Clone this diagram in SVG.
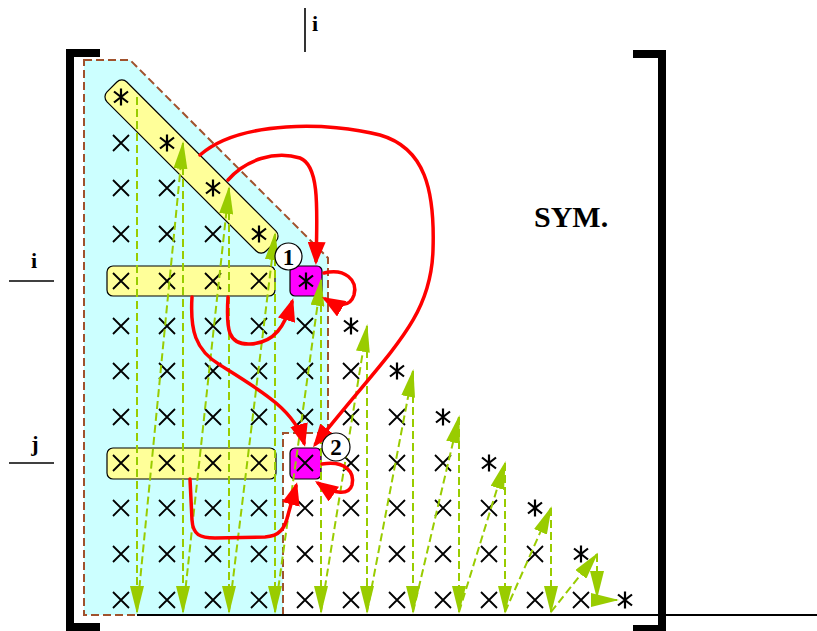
<svg xmlns="http://www.w3.org/2000/svg" xmlns:xlink="http://www.w3.org/1999/xlink" width="817" height="631" viewBox="0 0 817 631">
  <style>
    .bracket { fill: none; stroke: #000; stroke-width: 8; stroke-linejoin: miter; }
    .thin { fill: none; stroke: #000; stroke-width: 1.6; }
    .lbl { font-family: "Liberation Serif", "Times New Roman", serif; font-weight: bold; fill: #000; }
    .region { fill: #ccffff; stroke: #a0522d; stroke-width: 2; stroke-dasharray: 8 4; }
    .hl { fill: #ffff99; stroke: #000; stroke-width: 1.2; }
    .cur { fill: #ff00ff; stroke: #000; stroke-width: 1.2; }
    .mk { fill: none; stroke: #000; stroke-width: 1.8; }
    .st { fill: none; stroke: #000; stroke-width: 2.2; }
    .flow { fill: none; stroke: #99cc00; stroke-width: 2; stroke-dasharray: 8 4; marker-end: url(#gHead); }
    .dep { fill: none; stroke: #ff0000; stroke-width: 3.5; stroke-linecap: round; marker-end: url(#rHead); }
    .tag { fill: #fff; stroke: #000; stroke-width: 1.2; }
  </style>
  <defs>
    <marker id="gHead" markerUnits="userSpaceOnUse" markerWidth="28" markerHeight="14" viewBox="0 0 28 14" refX="26" refY="7" orient="auto">
      <path d="M0,0 L28,7 L0,14 Z" fill="#99cc00"/>
    </marker>
    <marker id="rHead" markerUnits="userSpaceOnUse" markerWidth="23" markerHeight="18" viewBox="0 0 23 18" refX="19" refY="9" orient="auto">
      <path d="M0,0 L23,9 L0,18 Z" fill="#ff0000"/>
    </marker>
    <path id="x" class="mk" d="M-8,-8L8,8M-8,8L8,-8"/>
    <path id="s" class="st" d="M0,-8.5V8.5M-7,-5.5L7,5.5M-7,5.5L7,-5.5"/>
  </defs>

  <rect width="817" height="631" fill="#fff"/>

  <!-- matrix brackets and index labels -->
  <g id="brackets">
    <path class="bracket" d="M100,53 H70 V627 H100"/>
    <path class="bracket" d="M633,54 H662 V629 H633"/>
  </g>
  <g id="labels">
    <line class="thin" x1="305" y1="8" x2="305" y2="52"/>
    <text class="lbl" x="312" y="31" font-size="22">i</text>
    <text class="lbl" x="34" y="268" font-size="22" text-anchor="middle">i</text>
    <line class="thin" x1="9" y1="281" x2="54" y2="281"/>
    <text class="lbl" x="35" y="451" font-size="22" text-anchor="middle">j</text>
    <line class="thin" x1="9" y1="463" x2="54" y2="463"/>
    <text class="lbl" x="534" y="227" font-size="30">SYM.</text>
  </g>

  <!-- computed region -->
  <g id="region">
    <path class="region" d="M84,60 H130 L328,258 V433 H283 V615 H84 Z"/>
  </g>
  <line x1="137" y1="615" x2="817" y2="615" stroke="#000" stroke-width="2"/>

  <!-- highlighted diagonal and rows -->
  <g id="diag-band">
    <rect class="hl" x="-112.5" y="-14" width="225" height="28" rx="7" transform="translate(191.5,166.5) rotate(45)"/>
  </g>
  <g id="row-i-band">
    <rect class="hl" x="107" y="266" width="168" height="30" rx="6"/>
  </g>
  <g id="row-j-band">
    <rect class="hl" x="107" y="448" width="169" height="31" rx="6"/>
  </g>

  <!-- current elements -->
  <g id="elem-ii">
    <rect class="cur" x="290" y="266" width="32" height="30" rx="5"/>
  </g>
  <g id="elem-ji">
    <rect class="cur" x="290" y="448" width="31" height="31" rx="5"/>
  </g>

  <!-- matrix entries (lower triangle) -->
  <g id="entries">
    <use href="#s" x="121" y="97"/>
    <use href="#x" x="121" y="143"/><use href="#s" x="167" y="143"/>
    <use href="#x" x="121" y="188"/><use href="#x" x="167" y="188"/><use href="#s" x="213" y="188"/>
    <use href="#x" x="121" y="234"/><use href="#x" x="167" y="234"/><use href="#x" x="213" y="234"/><use href="#s" x="259" y="234"/>
    <use href="#x" x="121" y="281"/><use href="#x" x="167" y="281"/><use href="#x" x="213" y="281"/><use href="#x" x="259" y="281"/><use href="#s" x="306" y="281"/>
    <use href="#x" x="121" y="326"/><use href="#x" x="167" y="326"/><use href="#x" x="213" y="326"/><use href="#x" x="259" y="326"/><use href="#x" x="305" y="326"/><use href="#s" x="351" y="326"/>
    <use href="#x" x="121" y="371"/><use href="#x" x="167" y="371"/><use href="#x" x="213" y="371"/><use href="#x" x="259" y="371"/><use href="#x" x="305" y="371"/><use href="#x" x="351" y="371"/><use href="#s" x="397" y="371"/>
    <use href="#x" x="121" y="417"/><use href="#x" x="167" y="417"/><use href="#x" x="213" y="417"/><use href="#x" x="259" y="417"/><use href="#x" x="305" y="417"/><use href="#x" x="351" y="417"/><use href="#x" x="397" y="417"/><use href="#s" x="443" y="417"/>
    <use href="#x" x="121" y="463"/><use href="#x" x="167" y="463"/><use href="#x" x="213" y="463"/><use href="#x" x="259" y="463"/><use href="#x" x="305" y="463"/><use href="#x" x="351" y="463"/><use href="#x" x="397" y="463"/><use href="#x" x="443" y="463"/><use href="#s" x="489" y="463"/>
    <use href="#x" x="121" y="508"/><use href="#x" x="167" y="508"/><use href="#x" x="213" y="508"/><use href="#x" x="259" y="508"/><use href="#x" x="305" y="508"/><use href="#x" x="351" y="508"/><use href="#x" x="397" y="508"/><use href="#x" x="443" y="508"/><use href="#x" x="489" y="508"/><use href="#s" x="535" y="508"/>
    <use href="#x" x="121" y="554"/><use href="#x" x="167" y="554"/><use href="#x" x="213" y="554"/><use href="#x" x="259" y="554"/><use href="#x" x="305" y="554"/><use href="#x" x="351" y="554"/><use href="#x" x="397" y="554"/><use href="#x" x="443" y="554"/><use href="#x" x="489" y="554"/><use href="#x" x="535" y="554"/><use href="#s" x="581" y="554"/>
    <use href="#x" x="121" y="600"/><use href="#x" x="167" y="600"/><use href="#x" x="213" y="600"/><use href="#x" x="259" y="600"/><use href="#x" x="305" y="600"/><use href="#x" x="351" y="600"/><use href="#x" x="397" y="600"/><use href="#x" x="443" y="600"/><use href="#x" x="489" y="600"/><use href="#x" x="535" y="600"/><use href="#x" x="581" y="600"/><use href="#s" x="625" y="600"/>
  </g>

  <!-- connectors -->
  <g id="connectors">
    <!-- column-by-column traversal -->
    <path class="flow" d="M137,97 V612"/>
    <path class="flow" d="M137,612 L183,143"/>
    <path class="flow" d="M183,143 V612"/>
    <path class="flow" d="M183,612 L229,188"/>
    <path class="flow" d="M229,188 V612"/>
    <path class="flow" d="M229,612 L275,234"/>
    <path class="flow" d="M275,234 V612"/>
    <path class="flow" d="M275,612 L321,280"/>
    <path class="flow" d="M321,280 V612"/>
    <path class="flow" d="M321,612 L367,326"/>
    <path class="flow" d="M367,326 V612"/>
    <path class="flow" d="M367,612 L413,371"/>
    <path class="flow" d="M413,371 V612"/>
    <path class="flow" d="M413,612 L459,417"/>
    <path class="flow" d="M459,417 V612"/>
    <path class="flow" d="M459,612 L505,463"/>
    <path class="flow" d="M505,463 V612"/>
    <path class="flow" d="M505,612 L551,508"/>
    <path class="flow" d="M551,508 V612"/>
    <path class="flow" d="M551,612 L597,554"/>
    <path class="flow" d="M597,554 V597"/>
    <path class="flow" d="M597,600 L617,600"/>

    <!-- data dependencies -->
    <path class="dep" d="M200,155 C240,120 330,122 380,135 C425,148 435,190 433,250 C431,320 390,350 315.5,444"/>
    <path class="dep" d="M228,180 C245,160 275,150 300,158 C318,165 318,200 316,261"/>
    <path class="dep" d="M324,273 C345,268 358,280 354,295 C350,308 337,306 325.4,299"/>
    <path class="dep" d="M228,297 C226,330 228,345 250,344 C275,343 285,325 292,302"/>
    <path class="dep" d="M192,297 C190,330 195,350 220,365 C260,390 295,410 304,443"/>
    <path class="dep" d="M190,479 L192,520 C193,535 200,538 215,538 L265,537 C280,536 285,528 288,515 L296,486"/>
    <path class="dep" d="M322,464 C345,460 355,472 352,485 C349,495 335,495 318.3,483.3"/>
  </g>

  <!-- step numbers -->
  <g id="step-1">
    <circle class="tag" cx="288.5" cy="256.5" r="13.5"/>
    <text class="lbl" x="288.5" y="264.5" font-size="23" text-anchor="middle">1</text>
  </g>
  <g id="step-2">
    <circle class="tag" cx="336" cy="447" r="14"/>
    <text class="lbl" x="336" y="455" font-size="23" text-anchor="middle">2</text>
  </g>
</svg>
